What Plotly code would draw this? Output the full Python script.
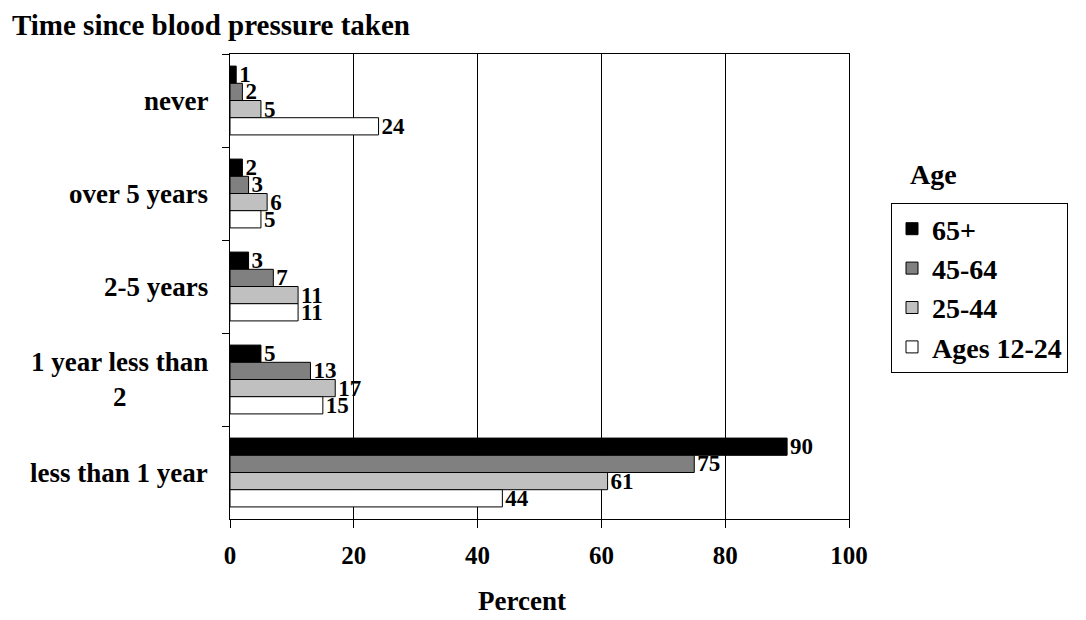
import plotly.graph_objects as go

# Survey categories (top to bottom) and age groups
categories = ["never", "over 5 years", "2-5 years", "1 year less than 2", "less than 1 year"]
category_labels = ["never", "over 5 years", "2-5 years", "1 year less than<br>2", "less than 1 year"]
age_groups = ["65+", "45-64", "25-44", "Ages 12-24"]

# Percent of each age group, by time since blood pressure was taken
pct_65_plus = [1, 2, 3, 5, 90]
pct_45_64 = [2, 3, 7, 13, 75]
pct_25_44 = [5, 6, 11, 17, 61]
pct_12_24 = [24, 5, 11, 15, 44]

series = [pct_65_plus, pct_45_64, pct_25_44, pct_12_24]
fills = ["#000000", "#808080", "#c0c0c0", "#ffffff"]

FONT = "Liberation Serif"

fig = go.Figure()
for name, vals, col in zip(age_groups, series, fills):
    fig.add_trace(go.Bar(
        y=categories,
        x=vals,
        name=name,
        orientation="h",
        marker=dict(color=col, line=dict(color="#000000", width=1)),
        text=vals,
        texttemplate="%{x}",
        textposition="outside",
        constraintext="none",
        cliponaxis=False,
        textfont=dict(family=FONT, size=23, color="#000000", weight="bold"),
        hoverinfo="skip",
    ))

annotations = []
for cat, lab in zip(categories, category_labels):
    annotations.append(dict(
        x=-0.032, xref="paper", y=cat, yref="y",
        text=lab, showarrow=False, xanchor="right", yanchor="middle", align="center",
        font=dict(family=FONT, size=27, color="#000000", weight="bold"),
    ))

# axis title and legend heading
annotations.append(dict(
    x=(522 - 230) / 619, xref="paper", y=(519 - 601) / 465, yref="paper",
    text="Percent", showarrow=False, xanchor="center", yanchor="middle",
    font=dict(family=FONT, size=27, color="#000000", weight="bold"),
))
annotations.append(dict(
    x=(933 - 230) / 619, xref="paper", y=(519 - 174) / 465, yref="paper",
    text="Age", showarrow=False, xanchor="center", yanchor="middle",
    font=dict(family=FONT, size=28, color="#000000", weight="bold"),
))

fig.update_layout(
    width=1086, height=620,
    margin=dict(l=230, r=237, t=54, b=101),
    paper_bgcolor="#ffffff", plot_bgcolor="#ffffff",
    barmode="group", bargap=0.26, bargroupgap=0,
    title=dict(
        text="Time since blood pressure taken",
        x=0.011, xanchor="left", y=1 - 25 / 620, yanchor="middle",
        font=dict(family=FONT, size=29, color="#000000", weight="bold"),
    ),
    showlegend=True,
    legend=dict(
        x=(891 - 230) / 619, xanchor="left", y=(519 - 203) / 465, yanchor="top",
        bordercolor="#000000", borderwidth=1, bgcolor="#ffffff",
        traceorder="normal",
        font=dict(family=FONT, size=28, color="#000000", weight="bold"),
    ),
    annotations=annotations,
)

fig.update_xaxes(
    range=[0, 100], dtick=20, tick0=0,
    showgrid=True, gridcolor="#000000", gridwidth=1,
    showline=True, linecolor="#000000", linewidth=1, mirror=True,
    ticks="outside", ticklen=8, tickcolor="#000000", ticklabelstandoff=6,
    zeroline=False,
    tickfont=dict(family=FONT, size=25, color="#000000", weight="bold"),
)
fig.update_yaxes(
    categoryorder="array", categoryarray=categories, autorange="reversed",
    showline=True, linecolor="#000000", linewidth=1, mirror=True,
    ticks="outside", tickson="boundaries", ticklen=7, tickcolor="#000000",
    showticklabels=False, showgrid=False,
)

fig.write_html("out.html")
